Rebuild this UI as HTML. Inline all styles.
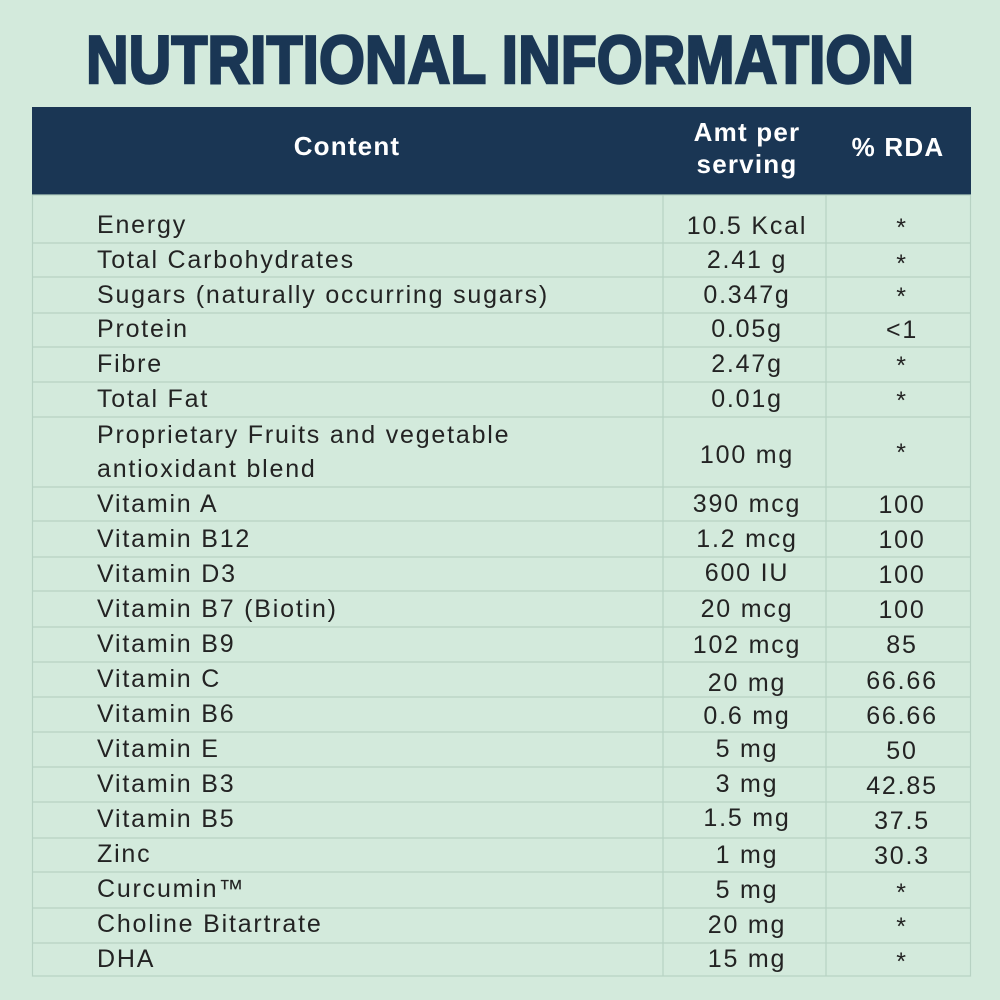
<!DOCTYPE html>
<html><head><meta charset="utf-8"><style>
html,body{margin:0;padding:0;background:#d3eadc;}
svg{display:block}
text{font-family:"Liberation Sans",sans-serif;}
.b{font-size:25px;fill:#232323;letter-spacing:1.8px}
.h{font-size:26px;fill:#fff;letter-spacing:1.2px;font-weight:bold}
</style></head><body>
<svg width="1000" height="1000" viewBox="0 0 1000 1000" xmlns="http://www.w3.org/2000/svg">
<rect width="1000" height="1000" fill="#d3eadc"/>
<text x="500" y="83" text-anchor="middle" textLength="828" lengthAdjust="spacingAndGlyphs" style="font-size:68px;font-weight:900;fill:#1a3654;stroke:#1a3654;stroke-width:2.5px;letter-spacing:0">NUTRITIONAL INFORMATION</text>
<rect x="32" y="107" width="939" height="88" fill="#1a3654"/>
<text class="h" x="347" y="155" text-anchor="middle">Content</text>
<text class="h" x="747" y="141" text-anchor="middle">Amt per</text>
<text class="h" x="747" y="173" text-anchor="middle">serving</text>
<text class="h" x="898" y="156" text-anchor="middle">% RDA</text>
<g stroke="#b7d2c3" stroke-width="1.2" fill="none">
<rect x="32.5" y="195" width="938" height="781"/>
<line x1="663" y1="195" x2="663" y2="976"/>
<line x1="826" y1="195" x2="826" y2="976"/>
<line x1="32" y1="243" x2="971" y2="243"/>
<line x1="32" y1="277" x2="971" y2="277"/>
<line x1="32" y1="313" x2="971" y2="313"/>
<line x1="32" y1="347" x2="971" y2="347"/>
<line x1="32" y1="382" x2="971" y2="382"/>
<line x1="32" y1="417" x2="971" y2="417"/>
<line x1="32" y1="487" x2="971" y2="487"/>
<line x1="32" y1="521" x2="971" y2="521"/>
<line x1="32" y1="557" x2="971" y2="557"/>
<line x1="32" y1="591" x2="971" y2="591"/>
<line x1="32" y1="627" x2="971" y2="627"/>
<line x1="32" y1="662" x2="971" y2="662"/>
<line x1="32" y1="697" x2="971" y2="697"/>
<line x1="32" y1="732" x2="971" y2="732"/>
<line x1="32" y1="767" x2="971" y2="767"/>
<line x1="32" y1="802" x2="971" y2="802"/>
<line x1="32" y1="838" x2="971" y2="838"/>
<line x1="32" y1="872" x2="971" y2="872"/>
<line x1="32" y1="908" x2="971" y2="908"/>
<line x1="32" y1="943" x2="971" y2="943"/>
</g>
<g class="b">
<text x="97" y="233">Energy</text><text x="747" y="234" text-anchor="middle">10.5 Kcal</text><text x="902" y="236" text-anchor="middle">*</text>
<text x="97" y="268">Total Carbohydrates</text><text x="747" y="268" text-anchor="middle">2.41 g</text><text x="902" y="272" text-anchor="middle">*</text>
<text x="97" y="303">Sugars (naturally occurring sugars)</text><text x="747" y="303" text-anchor="middle">0.347g</text><text x="902" y="305" text-anchor="middle">*</text>
<text x="97" y="337">Protein</text><text x="747" y="337" text-anchor="middle">0.05g</text><text x="902" y="338" text-anchor="middle">&lt;1</text>
<text x="97" y="372">Fibre</text><text x="747" y="372" text-anchor="middle">2.47g</text><text x="902" y="374" text-anchor="middle">*</text>
<text x="97" y="407">Total Fat</text><text x="747" y="407" text-anchor="middle">0.01g</text><text x="902" y="409" text-anchor="middle">*</text>
<text x="97" y="443">Proprietary Fruits and vegetable</text>
<text x="97" y="477">antioxidant blend</text><text x="747" y="463" text-anchor="middle">100 mg</text><text x="902" y="461" text-anchor="middle">*</text>
<text x="97" y="512">Vitamin A</text><text x="747" y="512" text-anchor="middle">390 mcg</text><text x="902" y="513" text-anchor="middle">100</text>
<text x="97" y="547">Vitamin B12</text><text x="747" y="547" text-anchor="middle">1.2 mcg</text><text x="902" y="548" text-anchor="middle">100</text>
<text x="97" y="582">Vitamin D3</text><text x="747" y="581" text-anchor="middle">600 IU</text><text x="902" y="583" text-anchor="middle">100</text>
<text x="97" y="617">Vitamin B7 (Biotin)</text><text x="747" y="617" text-anchor="middle">20 mcg</text><text x="902" y="618" text-anchor="middle">100</text>
<text x="97" y="652">Vitamin B9</text><text x="747" y="653" text-anchor="middle">102 mcg</text><text x="902" y="653" text-anchor="middle">85</text>
<text x="97" y="687">Vitamin C</text><text x="747" y="691" text-anchor="middle">20 mg</text><text x="902" y="689" text-anchor="middle">66.66</text>
<text x="97" y="722">Vitamin B6</text><text x="747" y="724" text-anchor="middle">0.6 mg</text><text x="902" y="724" text-anchor="middle">66.66</text>
<text x="97" y="757">Vitamin E</text><text x="747" y="757" text-anchor="middle">5 mg</text><text x="902" y="759" text-anchor="middle">50</text>
<text x="97" y="792">Vitamin B3</text><text x="747" y="792" text-anchor="middle">3 mg</text><text x="902" y="794" text-anchor="middle">42.85</text>
<text x="97" y="827">Vitamin B5</text><text x="747" y="826" text-anchor="middle">1.5 mg</text><text x="902" y="829" text-anchor="middle">37.5</text>
<text x="97" y="862">Zinc</text><text x="747" y="863" text-anchor="middle">1 mg</text><text x="902" y="864" text-anchor="middle">30.3</text>
<text x="97" y="897">Curcumin™</text><text x="747" y="898" text-anchor="middle">5 mg</text><text x="902" y="901" text-anchor="middle">*</text>
<text x="97" y="932">Choline Bitartrate</text><text x="747" y="933" text-anchor="middle">20 mg</text><text x="902" y="935" text-anchor="middle">*</text>
<text x="97" y="967">DHA</text><text x="747" y="967" text-anchor="middle">15 mg</text><text x="902" y="970" text-anchor="middle">*</text>
</g>
</svg>
</body></html>
